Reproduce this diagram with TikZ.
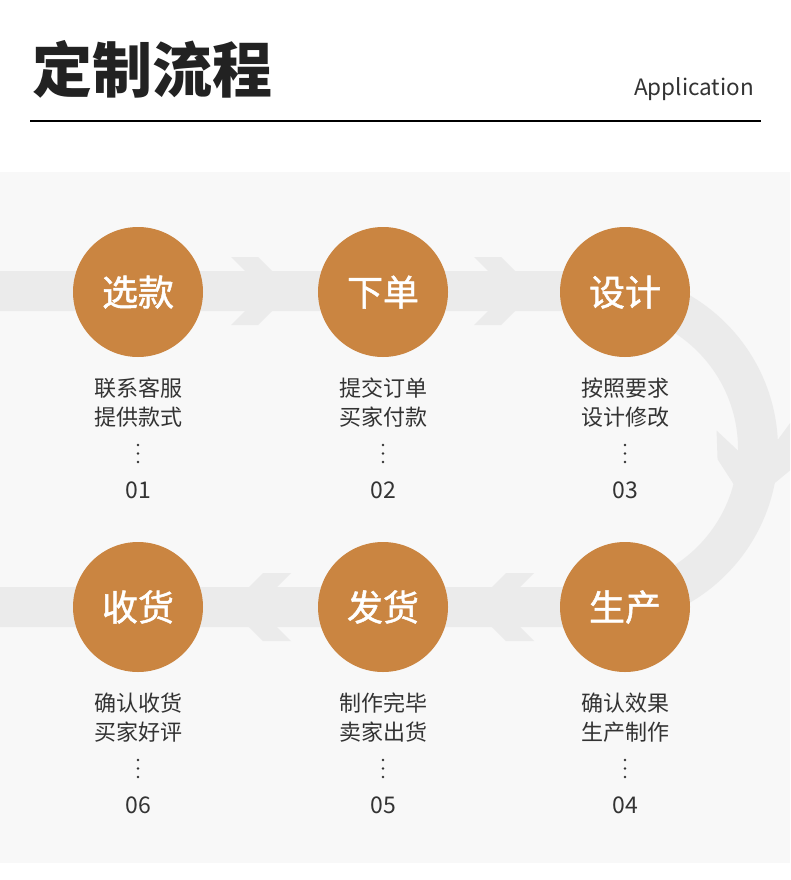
\documentclass[tikz,border=0pt]{standalone}
\usepackage{fontspec}
\setmainfont{Noto Sans CJK SC}
\newfontfamily\badgefont{Noto Sans CJK SC}[FakeBold=1.3]
\definecolor{panel}{HTML}{F8F8F8}
\definecolor{track}{HTML}{EBEBEB}
\definecolor{badge}{HTML}{CA8541}
\definecolor{ink}{HTML}{333333}
\definecolor{titleink}{HTML}{222222}
\tikzset{
  badgecircle/.style={circle, fill=badge, minimum size=130pt, inner sep=0pt},
  badgetext/.style={anchor=base, inner sep=0pt, text=white, font=\badgefont\fontsize{36}{36}\selectfont},
  desc/.style={anchor=base, inner sep=0pt, text=ink, font=\fontsize{22}{22}\selectfont},
  numtext/.style={anchor=base, inner sep=0pt, text=ink, font=\fontsize{23}{23}\selectfont},
  dotmark/.style={circle, fill=ink, minimum size=2.6pt, inner sep=0pt},
  trackfill/.style={fill=track, draw=none},
}
\newcommand\procstep[7]{%
  \node[badgecircle] (#1c) at (#2,#3) {};
  \node[badgetext] (#1t) at (#2,#3+13.7) {#4};
  \node[desc] (#1a) at (#2,#3+104.4) {#5};
  \node[desc] (#1b) at (#2,#3+133.4) {#6};
  \node[dotmark] (#1d1) at (#2,#3+153) {};
  \node[dotmark] (#1d2) at (#2,#3+161.5) {};
  \node[dotmark] (#1d3) at (#2,#3+170) {};
  \node[numtext] (#1n) at (#2,#3+206.4) {#7};
}
\begin{document}
\begin{tikzpicture}[x=1pt,y=-1pt]
  \useasboundingbox (0,0) rectangle (790,880);
  \clip (0,0) rectangle (790,880);
  \fill[white] (0,0) rectangle (790,880);
  % header
  \node[anchor=base west, inner sep=0pt, text=titleink, font=\fontsize{60}{60}\selectfont\bfseries] (title) at (32,92.8) {定制流程};
  \node[anchor=base east, inner sep=0pt, text=ink, font=\fontsize{22.5}{24}\selectfont] (app) at (754,96) {Application};
  \coordinate (ruleL) at (30,121);
  \coordinate (ruleR) at (761,121);
  \draw[line width=1.2pt, black] (ruleL) -- (ruleR);
  % panel
  \fill[panel] (0,172) rectangle (790,863);
  % track
  \path[trackfill] (0,271) -- (600,271) arc[start angle=-90, end angle=90, radius=178]
     -- (0,627) -- (0,587) -- (600,587) arc[start angle=90, end angle=-90, radius=138]
     -- (0,311) -- cycle;
  % chevrons top row (pointing right)
  \foreach \bx in {231,474}{
    \path[trackfill] (\bx,257) -- (\bx+27,257) -- (\bx+61,291) -- (\bx+27,325) -- (\bx,325) -- (\bx+34,291) -- cycle;
  }
  % chevrons bottom row (pointing left)
  \foreach \bx in {291,534}{
    \path[trackfill] (\bx,573) -- (\bx-28,573) -- (\bx-62,607) -- (\bx-28,641) -- (\bx,641) -- (\bx-34,607) -- cycle;
  }
  % chevron on the arc
  \begin{scope}[shift={(600,449)}]
    \path[trackfill] (-9:118) -- (5:118) -- (21:158) -- (5:196) -- (-9:196) -- (7:158) -- cycle;
  \end{scope}
  % steps
  \procstep{s1}{138}{292}{选款}{联系客服}{提供款式}{01}
  \procstep{s2}{383}{292}{下单}{提交订单}{买家付款}{02}
  \procstep{s3}{625}{292}{设计}{按照要求}{设计修改}{03}
  \procstep{s4}{625}{607}{生产}{确认效果}{生产制作}{04}
  \procstep{s5}{383}{607}{发货}{制作完毕}{卖家出货}{05}
  \procstep{s6}{138}{607}{收货}{确认收货}{买家好评}{06}
\end{tikzpicture}
\end{document}
